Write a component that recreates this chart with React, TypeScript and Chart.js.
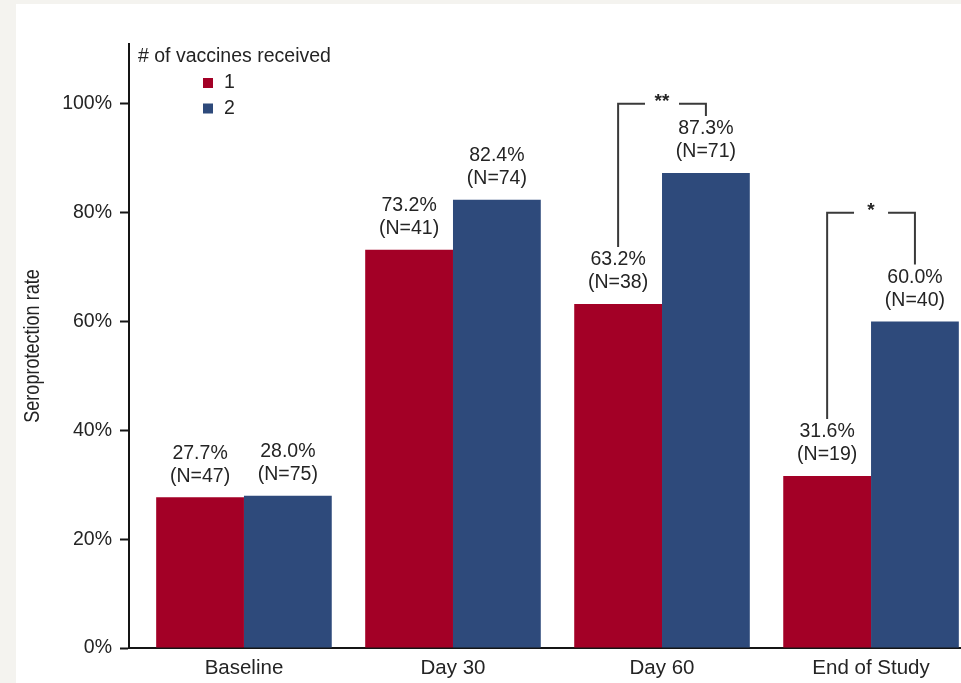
import React, { useEffect, useRef } from 'react';
import { Chart, registerables } from 'chart.js';

Chart.register(...registerables);

// Seroprotection rate by visit, split by number of vaccine doses received
const categories = ['Baseline', 'Day 30', 'Day 60', 'End of Study'];
const seriesLabels = ['1', '2'];
const oneDoseRate = [27.7, 73.2, 63.2, 31.6];
const twoDoseRate = [28.0, 82.4, 87.3, 60.0];
const oneDoseN = [47, 41, 38, 19];
const twoDoseN = [75, 74, 71, 40];
const yTicks = [0, 20, 40, 60, 80, 100];
const legendTitle = '# of vaccines received';
const yTitle = 'Seroprotection rate';

// Significance brackets: visit index, bracket height (%), marker
const bracketVisit = [2, 3];
const bracketLevel = [100, 80];
const bracketMark = ['**', '*'];

const seriesColors = ['#a30026', '#2e4a7b'];
const FONT = "'Liberation Sans', Arial, Helvetica, sans-serif";
const TEXT = '#242424';
const AXIS = '#151515';

const CANVAS_W = 986;
const CANVAS_H = 683;

const valueLabels = {
  id: 'valueLabels',
  afterDatasetsDraw(chart: any) {
    const ctx = chart.ctx;
    ctx.save();
    ctx.font = `19.5px ${FONT}`;
    ctx.fillStyle = TEXT;
    ctx.textAlign = 'center';
    ctx.textBaseline = 'middle';
    chart.data.datasets.forEach((ds: any, di: number) => {
      const counts = di === 0 ? oneDoseN : twoDoseN;
      chart.getDatasetMeta(di).data.forEach((bar: any, i: number) => {
        const v = ds.data[i].y as number;
        ctx.fillText(`${v.toFixed(1)}%`, bar.x, bar.y - 44);
        ctx.fillText(`(N=${counts[i]})`, bar.x, bar.y - 21);
      });
    });
    ctx.restore();
  },
};

const sigBrackets = {
  id: 'sigBrackets',
  afterDatasetsDraw(chart: any) {
    const ctx = chart.ctx;
    const yScale = chart.scales.y;
    const m0 = chart.getDatasetMeta(0);
    const m1 = chart.getDatasetMeta(1);
    ctx.save();
    ctx.strokeStyle = '#3a3a3a';
    ctx.lineWidth = 2;
    ctx.lineCap = 'butt';
    ctx.lineJoin = 'miter';
    bracketVisit.forEach((vi, k) => {
      const a = m0.data[vi];
      const b = m1.data[vi];
      const top = yScale.getPixelForValue(bracketLevel[k]);
      const mid = (a.x + b.x) / 2;
      const gap = 17;
      ctx.beginPath();
      ctx.moveTo(a.x, a.y - 57);
      ctx.lineTo(a.x, top);
      ctx.lineTo(mid - gap, top);
      ctx.moveTo(mid + gap, top);
      ctx.lineTo(b.x, top);
      ctx.lineTo(b.x, b.y - 57);
      ctx.stroke();
      ctx.font = `bold 19px ${FONT}`;
      ctx.fillStyle = TEXT;
      ctx.textAlign = 'center';
      ctx.textBaseline = 'alphabetic';
      ctx.fillText(bracketMark[k], mid, top + 3);
    });
    ctx.restore();
  },
};

// Condensed, rotated y-axis title centred on the plot area
const yAxisTitle = {
  id: 'yAxisTitle',
  afterDraw(chart: any) {
    const ctx = chart.ctx;
    const area = chart.chartArea;
    ctx.save();
    ctx.translate(33, (area.top + area.bottom) / 2);
    ctx.rotate(-Math.PI / 2);
    ctx.scale(0.82, 1);
    ctx.font = `22px ${FONT}`;
    ctx.fillStyle = TEXT;
    ctx.textAlign = 'center';
    ctx.textBaseline = 'middle';
    ctx.fillText(yTitle, 0, 0);
    ctx.restore();
  },
};

const doseLegend = {
  id: 'doseLegend',
  afterDraw(chart: any) {
    const ctx = chart.ctx;
    ctx.save();
    ctx.font = `19.5px ${FONT}`;
    ctx.fillStyle = TEXT;
    ctx.textAlign = 'left';
    ctx.textBaseline = 'middle';
    ctx.fillText(legendTitle, 138, 57);
    chart.data.datasets.forEach((ds: any, di: number) => {
      const cy = 83 + di * 25.5;
      ctx.fillStyle = ds.backgroundColor;
      ctx.fillRect(203, cy - 5, 10, 10);
      ctx.fillStyle = TEXT;
      ctx.fillText(ds.label, 224, cy);
    });
    ctx.restore();
  },
};

export default function App() {
  const canvasRef = useRef<HTMLCanvasElement | null>(null);

  useEffect(() => {
    if (!canvasRef.current) return;
    const rates = [oneDoseRate, twoDoseRate];
    const chart = new Chart(canvasRef.current, {
      type: 'bar',
      data: {
        datasets: rates.map((r, di) => ({
          label: seriesLabels[di],
          data: r.map((y, i) => ({ x: i, y })),
          backgroundColor: seriesColors[di],
          borderWidth: 0,
          barPercentage: 1,
          categoryPercentage: 0.84,
        })),
      },
      options: {
        animation: false,
        responsive: false,
        maintainAspectRatio: false,
        layout: { padding: { left: 20, top: 44, right: 0, bottom: 0 } },
        plugins: {
          legend: { display: false },
          tooltip: { enabled: false },
        },
        scales: {
          x: {
            type: 'linear',
            min: -0.55,
            max: 3.55,
            offset: false,
            bounds: 'data',
            grid: { display: true, offset: false, drawOnChartArea: false, drawTicks: false },
            border: { display: true, color: AXIS, width: 2 },
            ticks: {
              padding: 8,
              autoSkip: false,
              maxRotation: 0,
              color: TEXT,
              font: { family: FONT, size: 20.5 },
              callback: (v: any) => categories[v] ?? '',
            },
            afterBuildTicks: (s: any) => {
              s.ticks = categories.map((_, i) => ({ value: i }));
            },
            afterFit: (s: any) => {
              s.height = 35;
            },
          },
          y: {
            min: 0,
            max: 111,
            bounds: 'data',
            grid: {
              drawOnChartArea: false,
              drawTicks: true,
              tickLength: 9,
              tickWidth: 2,
              tickColor: AXIS,
            },
            border: { display: true, color: AXIS, width: 2 },
            ticks: {
              padding: 8,
              color: TEXT,
              font: { family: FONT, size: 19.5 },
              callback: (v: any) => `${v}%`,
            },
            afterBuildTicks: (s: any) => {
              s.ticks = yTicks.map((value) => ({ value }));
            },
            afterFit: (s: any) => {
              s.width = 109;
            },
          },
        },
      },
      plugins: [valueLabels, sigBrackets, yAxisTitle, doseLegend],
    } as any);
    return () => chart.destroy();
  }, []);

  return (
    <div
      style={{
        position: 'fixed',
        left: 0,
        top: 0,
        width: 961,
        height: 683,
        overflow: 'hidden',
        background: '#f4f3ef',
      }}
    >
      <div
        style={{
          position: 'absolute',
          left: 16,
          top: 4,
          right: 0,
          bottom: 0,
          background: '#ffffff',
        }}
      />
      <canvas
        ref={canvasRef}
        width={CANVAS_W}
        height={CANVAS_H}
        style={{
          position: 'absolute',
          left: 0,
          top: 0,
          width: CANVAS_W,
          height: CANVAS_H,
        }}
      />
    </div>
  );
}
